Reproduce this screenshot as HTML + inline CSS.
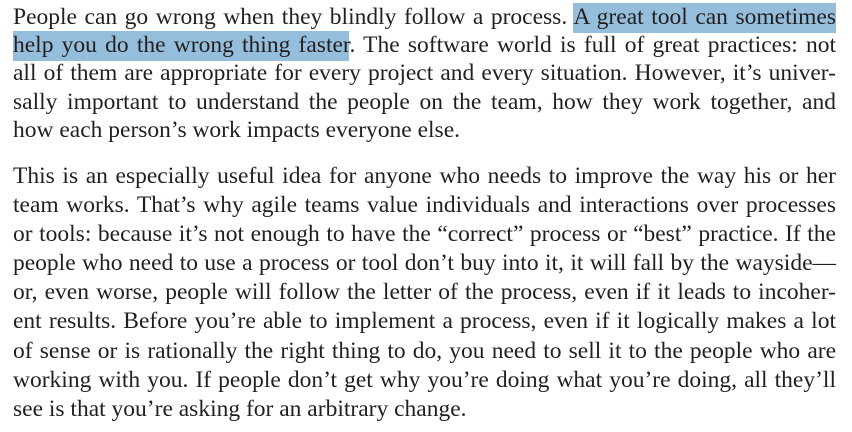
<!DOCTYPE html>
<html><head><meta charset="utf-8"><style>
html,body{margin:0;padding:0;background:#fff;width:852px;height:432px;overflow:hidden}
.page{position:relative;width:852px;height:432px;font-family:"Liberation Serif",serif;font-size:23.5px;color:#231f20}
.l{position:absolute;left:13px;width:823px;line-height:20px;white-space:nowrap;text-align:justify;text-align-last:justify}
.l.last{text-align-last:left}
.hl{background:#94bedb;padding:1px 0 3px}
</style></head><body>
<div class="page">
<div>
<div class="l" style="top:7px">People can go wrong when they blindly follow a process. <span class="hl">A great tool can sometimes</span></div>
<div class="l" style="top:35px"><span class="hl">help you do the wrong thing faster</span>. The software world is full of great practices: not</div>
<div class="l" style="top:63px">all of them are appropriate for every project and every situation. However, it’s univer-</div>
<div class="l" style="top:92px">sally important to understand the people on the team, how they work together, and</div>
<div class="l last" style="top:120px">how each person’s work impacts everyone else.</div>
</div>
<div>
<div class="l" style="top:166px">This is an especially useful idea for anyone who needs to improve the way his or her</div>
<div class="l" style="top:195px">team works. That’s why agile teams value individuals and interactions over processes</div>
<div class="l" style="top:224px">or tools: because it’s not enough to have the “correct” process or “best” practice. If the</div>
<div class="l" style="top:253px">people who need to use a process or tool don’t buy into it, it will fall by the wayside—</div>
<div class="l" style="top:282px">or, even worse, people will follow the letter of the process, even if it leads to incoher-</div>
<div class="l" style="top:311px">ent results. Before you’re able to implement a process, even if it logically makes a lot</div>
<div class="l" style="top:341px">of sense or is rationally the right thing to do, you need to sell it to the people who are</div>
<div class="l" style="top:370px">working with you. If people don’t get why you’re doing what you’re doing, all they’ll</div>
<div class="l last" style="top:399px">see is that you’re asking for an arbitrary change.</div>
</div>
</div>
</body></html>
